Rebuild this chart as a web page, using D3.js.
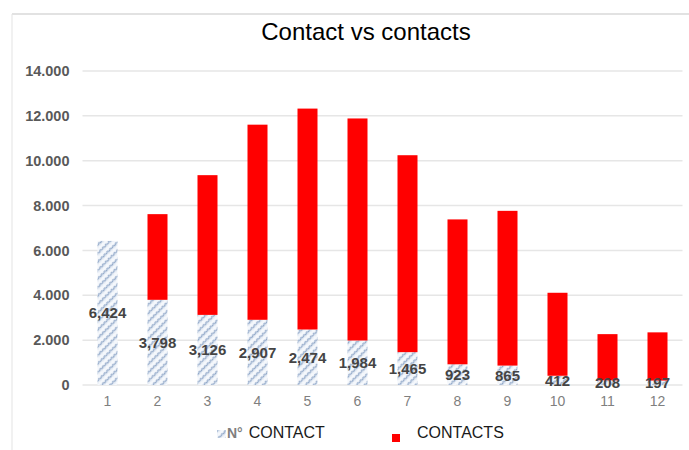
<!DOCTYPE html>
<html>
<head>
<meta charset="utf-8">
<script src="https://cdn.jsdelivr.net/npm/d3@7"></script>
<style>
  body { margin: 0; background: #fff; }
</style>
</head>
<body>
<div id="chart"></div>
<script>
// data
var categories = ["1","2","3","4","5","6","7","8","9","10","11","12"];
var nContact = [6424, 3798, 3126, 2907, 2474, 1984, 1465, 923, 865, 412, 208, 197];
// red segment stacked on top of N° CONTACT
var contacts = [0, 3820, 6230, 8700, 9850, 9900, 8780, 6460, 6900, 3700, 2060, 2150];
var yTicks = [0, 2000, 4000, 6000, 8000, 10000, 12000, 14000];

var W = 689, H = 450;
var margin = {top: 71, left: 82.5, right: 6.5, bottom: 65};

var svg = d3.select("#chart").append("svg")
    .attr("width", W)
    .attr("height", H);

// zigzag hatch (running along the "/" diagonal) for the N° CONTACT series
var defs = svg.append("defs");
var pat = defs.append("pattern")
    .attr("id", "hatch")
    .attr("patternUnits", "userSpaceOnUse")
    .attr("width", 8)
    .attr("height", 6)
    .attr("patternTransform", "rotate(-45)");
pat.append("rect").attr("width", 8).attr("height", 6).attr("fill", "#f5f8fc");
pat.append("path")
    .attr("d", "M0,3 L2,1.5 L4,3 L6,1.5 L8,3")
    .attr("fill", "none")
    .attr("stroke", "#8ea6c7").attr("stroke-width", 1.1);
pat.append("path")
    .attr("d", "M2,1.5 L2,4.5 M6,1.5 L6,4.5")
    .attr("fill", "none")
    .attr("stroke", "#bccbe0").attr("stroke-width", 0.7);

// outer frame (top and left edges visible)
svg.append("line").attr("x1", 12).attr("x2", W).attr("y1", 14).attr("y2", 14)
    .attr("stroke", "#d9d9d9").attr("stroke-width", 1.5);
svg.append("line").attr("x1", 12).attr("x2", 12).attr("y1", 14).attr("y2", H)
    .attr("stroke", "#e3e3e3").attr("stroke-width", 1);

var x = d3.scaleBand()
    .domain(categories)
    .range([margin.left, W - margin.right])
    .paddingInner(0.6)
    .paddingOuter(0.3);

var y = d3.scaleLinear()
    .domain([0, 14000])
    .range([385, margin.top]);

var locale = d3.formatLocale({decimal: ",", thousands: ".", grouping: [3], currency: ["", ""]});
var fmtAxis = locale.format(",");
var fmtLabel = d3.format(",");

// gridlines
svg.append("g")
  .selectAll("line")
  .data(yTicks)
  .enter().append("line")
    .attr("x1", margin.left)
    .attr("x2", W - margin.right)
    .attr("y1", function(d) { return y(d); })
    .attr("y2", function(d) { return y(d); })
    .attr("stroke", "#e6e6e6")
    .attr("stroke-width", 1.5);

// Y axis
var yAxis = svg.append("g")
    .attr("transform", "translate(" + (margin.left - 13) + ",0)")
    .call(d3.axisLeft(y).tickValues(yTicks).tickFormat(fmtAxis).tickSize(0).tickPadding(0));
yAxis.select(".domain").remove();
yAxis.selectAll("text")
    .attr("fill", "#595959")
    .style("font-family", "Liberation Sans, Arial, sans-serif")
    .style("font-size", "14.5px")
    .style("font-weight", "bold");

// X axis
var xAxis = svg.append("g")
    .attr("transform", "translate(0,385)")
    .call(d3.axisBottom(x).tickSize(0).tickPadding(11));
xAxis.select(".domain").remove();
xAxis.selectAll("text")
    .attr("fill", "#7f7f7f")
    .style("font-family", "Liberation Sans, Arial, sans-serif")
    .style("font-size", "14px");

// stacked data
var table = categories.map(function(c, i) {
  return {group: c, ncontact: nContact[i], contacts: contacts[i]};
});
var keys = ["ncontact", "contacts"];
var stackedData = d3.stack().keys(keys)(table);

var fills = {ncontact: "url(#hatch)", contacts: "#ff0000"};

svg.append("g")
  .selectAll("g")
  .data(stackedData)
  .enter().append("g")
    .attr("fill", function(d) { return fills[d.key]; })
  .selectAll("rect")
  .data(function(d) { return d; })
  .enter().append("rect")
    .attr("x", function(d) { return x(d.data.group); })
    .attr("y", function(d) { return y(d[1]); })
    .attr("height", function(d) { return y(d[0]) - y(d[1]); })
    .attr("width", x.bandwidth());

// data labels for N° CONTACT
svg.append("g")
  .selectAll("text")
  .data(stackedData[0])
  .enter().append("text")
    .attr("x", function(d) { return x(d.data.group) + x.bandwidth() / 2; })
    .attr("y", function(d) { return (y(d[0]) + y(d[1])) / 2; })
    .attr("dy", "0.36em")
    .attr("text-anchor", "middle")
    .attr("fill", "#444")
    .style("font-family", "Liberation Sans, Arial, sans-serif")
    .style("font-size", "15px")
    .style("font-weight", "bold")
    .text(function(d) { return fmtLabel(d.data.ncontact); });

// title
svg.append("text")
    .attr("x", 366)
    .attr("y", 40)
    .attr("text-anchor", "middle")
    .attr("fill", "#000")
    .style("font-family", "Liberation Sans, Arial, sans-serif")
    .style("font-size", "24px")
    .text("Contact vs contacts");

// legend
var legend = svg.append("g")
    .style("font-family", "Liberation Sans, Arial, sans-serif");
legend.append("rect")
    .attr("x", 217).attr("y", 430).attr("width", 9).attr("height", 8)
    .attr("fill", "url(#hatch)");
var t1 = legend.append("text")
    .attr("x", 227).attr("y", 438)
    .style("font-size", "16px");
t1.append("tspan").attr("fill", "#7f7f7f").style("font-weight", "bold").style("font-size", "14px").text("N°");
t1.append("tspan").attr("fill", "#1a1a1a").attr("dx", 6).text("CONTACT");
legend.append("rect")
    .attr("x", 392).attr("y", 434).attr("width", 8).attr("height", 8)
    .attr("fill", "#ff0000");
legend.append("text")
    .attr("x", 417).attr("y", 438)
    .attr("fill", "#1a1a1a")
    .style("font-size", "16px")
    .text("CONTACTS");
</script>
</body>
</html>
